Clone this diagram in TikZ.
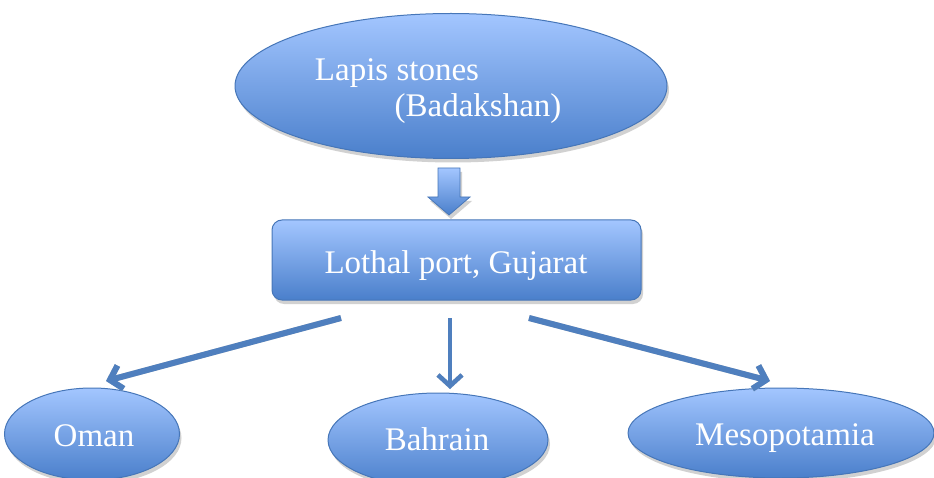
\documentclass[tikz,border=0pt]{standalone}
\usepackage{fontspec}
\setmainfont{Liberation Serif}
\usetikzlibrary{shapes.geometric,shadows,arrows.meta}
\definecolor{fillTop}{HTML}{A3C6FF}
\definecolor{fillBot}{HTML}{4A7FCB}
\definecolor{edge}{HTML}{4676B8}
\definecolor{linkBlue}{HTML}{4F7FBE}
\tikzset{
  softshadow/.style={drop shadow={opacity=0.3,shadow xshift=2pt,shadow yshift=-4pt,fill=black!60}},
  bluefill/.style={top color=fillTop,bottom color=fillBot,draw=edge,line width=1pt},
  oval/.style={ellipse,bluefill,softshadow,inner sep=0pt},
  portbox/.style={rectangle,rounded corners=10pt,bluefill,softshadow,inner sep=0pt},
  lbl/.style={text=white,font=\fontsize{33}{39}\selectfont,anchor=base,inner sep=0pt},
  tip/.style={-{Straight Barb[length=11pt,width=24pt,line width=#1]}},
  link/.style={draw=linkBlue,line width=#1,tip=#1},
  linkshade/.style={draw=black!22,line width=#1,tip=#1}
}
\begin{document}
\begin{tikzpicture}[x=1pt,y=-1pt]
\useasboundingbox (0,0) rectangle (934,478);

% source
\node[oval,minimum width=432pt,minimum height=145pt] (lapis) at (451,86) {};
\node[lbl] (lapisA) at (397,81) {Lapis stones};
\node[lbl] (lapisB) at (478,117) {(Badakshan)};

% block arrow between source and port
\path[top color=fillTop,bottom color=fillBot,draw=edge,line width=0.8pt,softshadow]
  (438,168) -- (460,168) -- (460,197) -- (470,197) -- (449,215) -- (428,197) -- (438,197) -- cycle;

% port
\node[portbox,minimum width=369pt,minimum height=80pt] (lothal) at (456.5,260) {};
\node[lbl] (lothalT) at (456,273) {Lothal port, Gujarat};

% destinations
\node[oval,minimum width=175pt,minimum height=92pt] (oman) at (92,434) {};
\node[lbl] (omanT) at (94,446) {Oman};
\node[oval,minimum width=220pt,minimum height=94pt] (bahrain) at (438,440) {};
\node[lbl] (bahrainT) at (437,450) {Bahrain};
\node[oval,minimum width=306pt,minimum height=90pt] (meso) at (781,433) {};
\node[lbl] (mesoT) at (785,445) {Mesopotamia};

% trade routes
\coordinate (sL) at (341,318);
\coordinate (sM) at (450,318);
\coordinate (sR) at (529,318);
\coordinate (eL) at (106,381);
\coordinate (eM) at (450,389);
\coordinate (eR) at (770,381);
\begin{scope}[shift={(2,3)}]
  \draw[linkshade=6pt] (sL) -- (eL);
  \draw[linkshade=4.5pt] (sM) -- (eM);
  \draw[linkshade=6pt] (sR) -- (eR);
\end{scope}
\draw[link=6pt] (sL) -- (eL);
\draw[link=4.5pt] (sM) -- (eM);
\draw[link=6pt] (sR) -- (eR);
\end{tikzpicture}
\end{document}
